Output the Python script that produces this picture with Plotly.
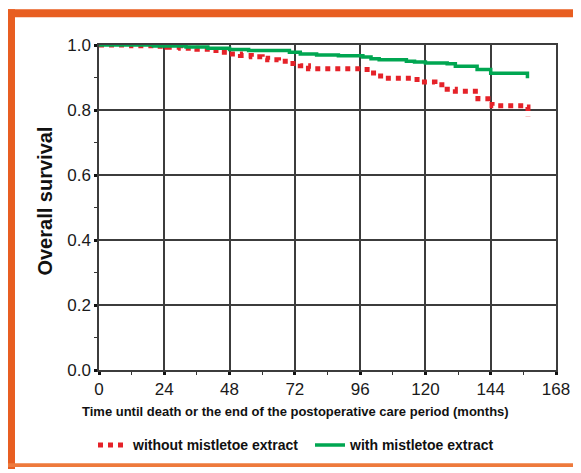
import plotly.graph_objects as go

# --- data ---
months_with = [0, 20, 32, 40, 48, 55, 70, 74, 80, 88, 97, 100, 103, 113, 116, 120, 128, 131, 139, 144, 157.5]
surv_with = [1.0, 0.997, 0.994, 0.990, 0.986, 0.983, 0.978, 0.972, 0.969, 0.967, 0.963, 0.958, 0.955,
             0.950, 0.948, 0.945, 0.942, 0.935, 0.925, 0.913, 0.898]

months_without = [0, 12, 20, 25, 30, 36, 41, 45, 48, 52, 56, 60, 62, 66, 70, 74, 77, 97, 99.6, 102.6,
                  105, 115.4, 118, 123.5, 128, 131, 139.3, 144.5, 157, 157.7]
surv_without = [1.0, 0.998, 0.996, 0.993, 0.990, 0.987, 0.983, 0.978, 0.972, 0.968, 0.964, 0.959, 0.955,
                0.950, 0.943, 0.936, 0.927, 0.925, 0.914, 0.905, 0.898, 0.894, 0.886, 0.878, 0.864,
                0.858, 0.835, 0.813, 0.809, 0.781]

x_ticks = [0, 24, 48, 72, 96, 120, 144, 168]
y_ticks = [0.0, 0.2, 0.4, 0.6, 0.8, 1.0]
y_ticklabels = ["0.0", "0.2", "0.4", "0.6", "0.8", "1.0"]

name_without = "without mistletoe extract"
name_with = "with mistletoe extract"
x_title = "Time until death or the end of the postoperative care period (months)"
y_title = "Overall survival"

RED = "#e52229"
GREEN = "#00a651"
ORANGE = "#e85e21"
GRID = "#3c3c3c"
FONT = "Liberation Sans, Arial, sans-serif"

# page places the figure 8px in from the top-left corner
W, H = 573, 465
L, R, T, B = 91, 25, 37, 100
PW, PH = W - L - R, H - T - B
OFF = 8


def px(xp):
    return (xp - OFF - L) / PW


def py(yp):
    return (H - B - (yp - OFF)) / PH


fig = go.Figure()
fig.add_trace(go.Scatter(x=months_without, y=surv_without, mode="lines", name=name_without,
                         line=dict(color=RED, width=5, dash="5px,5px", shape="hv")))
fig.add_trace(go.Scatter(x=months_with, y=surv_with, mode="lines", name=name_with,
                         line=dict(color=GREEN, width=3.5, shape="hv")))

axis_common = dict(showgrid=True, gridcolor=GRID, gridwidth=1.5, showline=True, linecolor=GRID,
                   linewidth=1.5, mirror=True, ticks="outside", ticklen=3, tickwidth=3, tickcolor="#111",
                   zeroline=False, tickfont=dict(family=FONT, size=17, color="#1a1a1a"))

fig.update_xaxes(range=[0, 168], tickvals=x_ticks, ticktext=[str(v) for v in x_ticks],
                 minor=dict(ticks="outside", ticklen=3, tickwidth=1, tickcolor="#333", dtick=12,
                            tick0=0, showgrid=False),
                 **axis_common)
fig.update_yaxes(range=[0, 1.0], tickvals=y_ticks, ticktext=y_ticklabels,
                 minor=dict(ticks="outside", ticklen=3, tickwidth=1, tickcolor="#333", dtick=0.1,
                            tick0=0, showgrid=False),
                 **axis_common)

shapes = [
    dict(type="rect", xref="paper", yref="paper", x0=px(8), x1=px(581), y0=py(17), y1=py(9),
         fillcolor=ORANGE, line=dict(width=0)),
    dict(type="rect", xref="paper", yref="paper", x0=px(8), x1=px(15), y0=py(473), y1=py(9),
         fillcolor=ORANGE, line=dict(width=0)),
    dict(type="rect", xref="paper", yref="paper", x0=px(8), x1=px(581), y0=py(471), y1=py(467),
         fillcolor="#ee7a3c", line=dict(width=0)),
]

annotations = [
    dict(text=f"<b>{x_title}</b>", xref="paper", yref="paper", x=px(295), y=py(415),
         xanchor="center", yanchor="middle", showarrow=False,
         font=dict(family=FONT, size=13, color="#111")),
    dict(text=f"<b>{y_title}</b>", xref="paper", yref="paper", x=px(45), y=py(203),
         xanchor="center", yanchor="middle", showarrow=False, textangle=-90,
         font=dict(family=FONT, size=20, color="#111")),
]

fig.update_layout(
    width=W, height=H, margin=dict(l=L, r=R, t=T, b=B),
    paper_bgcolor="white", plot_bgcolor="white",
    shapes=shapes, annotations=annotations,
    showlegend=True,
    legend=dict(orientation="h", x=px(93), y=py(449), xanchor="left", yanchor="middle",
                font=dict(family=FONT, size=14, color="#111"), bgcolor="rgba(0,0,0,0)",
                entrywidth=172, entrywidthmode="pixels", itemwidth=30),
)

for tr in fig.data:
    tr.name = f"<b>{tr.name}</b>"

fig.write_html("out.html")
